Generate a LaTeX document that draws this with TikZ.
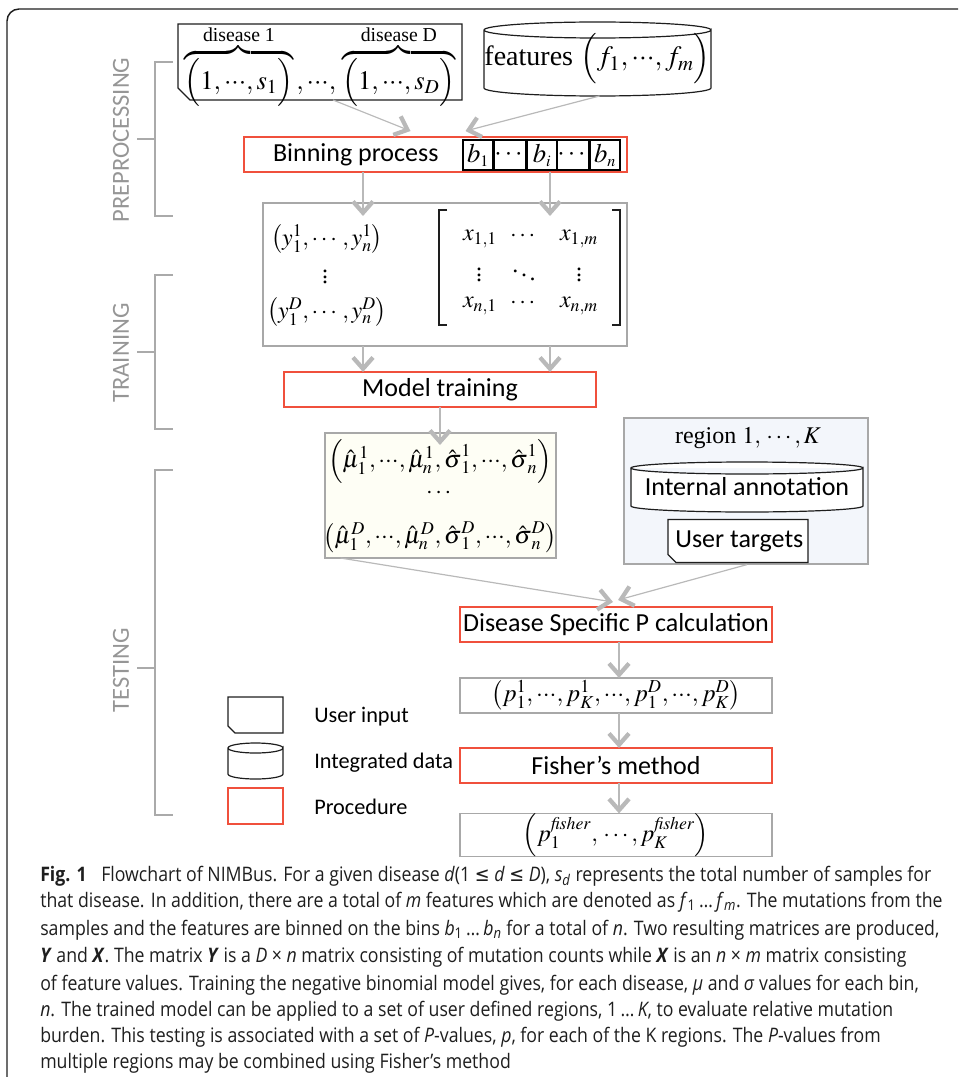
\documentclass[tikz,border=0pt]{standalone}
\usepackage{amsmath}
\usepackage{mathptmx}
\usepackage{fontspec}
\setmainfont{Liberation Serif}
\newfontfamily\calib{Carlito}
\newfontfamily\capfont[FakeStretch=0.885]{Open Sans}
\newfontfamily\symfont[FakeStretch=0.885]{DejaVu Sans}
\usetikzlibrary{arrows.meta,calc}

\definecolor{procred}{RGB}{240,80,60}
\definecolor{boxgray}{RGB}{168,168,168}
\definecolor{arrgray}{RGB}{185,185,185}
\definecolor{bracegray}{RGB}{170,170,170}
\definecolor{phasegray}{RGB}{150,150,150}
\definecolor{paramfill}{RGB}{254,254,245}
\definecolor{regionfill}{RGB}{243,246,251}
\definecolor{ink}{RGB}{30,30,30}

\newcommand\lblfont{\calib\fontsize{19.5}{23}\selectfont}
\newcommand\legfont{\calib\fontsize{16.7}{20}\selectfont}
\newcommand\mathbig{\fontsize{21}{25}\selectfont}
\newcommand\mathin{\fontsize{20}{24}\selectfont}
\newcommand\mathmid{\fontsize{18}{22}\selectfont}
\newcommand\mathvec{\fontsize{18.3}{22}\selectfont}
\newcommand\capline{\capfont\fontsize{15}{18}\selectfont}

% tight ellipsis and comma for the formulas
\newcommand\cd{\mathord{\cdotp}\mathord{\cdotp}\mathord{\cdotp}}
\newcommand\cm{\mathord{,}\mkern2mu}

\pgfdeclarelayer{bg}
\pgfdeclarelayer{shapes}
\pgfsetlayers{bg,shapes,main}

% cylinder outline around a named node: [style]{node}{half width}{cap radius}
\newcommand\drum[4][]{%
  \filldraw[#1] ($(#2.north west)+(0,#4)$) -- ($(#2.south west)+(0,-#4)$)
    arc[start angle=180,end angle=0,x radius=#3,y radius=#4]
    -- ($(#2.north east)+(0,#4)$)
    arc[start angle=0,end angle=360,x radius=#3,y radius=#4];}
% box with a clipped lower-left corner: [style]{node}{cut}
\newcommand\notched[3][]{%
  \filldraw[#1] (#2.north west) -- (#2.north east) -- (#2.south east)
    -- ($(#2.south west)+(#3,0)$) -- ($(#2.south west)+(0,-#3)$) -- cycle;}

\tikzset{
  sz/.style 2 args={minimum width=#1*0.75pt, minimum height=#2*0.75pt},
  holder/.style={inner sep=0pt, outer sep=0pt},
  proc/.style={draw=procred, line width=1.1pt, inner sep=0pt, outer sep=0pt, font=\lblfont},
  gbox/.style={draw=boxgray, line width=1.1pt, inner sep=0pt, outer sep=0pt},
  conn/.style={draw=arrgray, line width=1.3pt, -{Straight Barb[length=8.5pt,width=15pt,line width=3.2pt]}},
  thinconn/.style={conn, line width=0.9pt},
  cell/.style={draw=black, line width=1.5pt, sz={30}{30}, inner sep=0pt, font=\fontsize{20}{24}\selectfont},
  phase/.style={rotate=90, text=phasegray, inner sep=0pt, font=\calib\fontsize{18.4}{22}\selectfont},
  bracket/.style={draw=bracegray, line width=2.2pt},
  capl/.style={anchor=base west, inner sep=0pt, text=ink, font=\capline},
  leg/.style={anchor=west, inner sep=0pt, font=\legfont},
}

\begin{document}
\begin{tikzpicture}[x=0.75pt,y=-0.75pt]
\useasboundingbox (0,0) rectangle (958,1077);

% outer frame
\draw[ink,line width=1.1pt] (7,1077) -- (7,21)
  arc[start angle=180,end angle=270,x radius=12,y radius=12] -- (958,9);

% phase brackets
\node[phase] (ph1) at (121,140) {PREPROCESSING};
\draw[bracket] (173,62) -- (155,62) -- (155,216) -- (173,216);
\draw[bracket] (155,139) -- (137,139);
\node[phase] (ph2) at (121,353) {TRAINING};
\draw[bracket] (173,275) -- (155,275) -- (155,429) -- (173,429);
\draw[bracket] (155,352) -- (137,352);
\node[phase] (ph3) at (121,670) {TESTING};
\draw[bracket] (173,470) -- (155,470) -- (155,815) -- (173,815);
\draw[bracket] (155,668) -- (137,668);

% inputs
\node[holder,sz={284}{76}] (ui) at (320,62) {};
\node[holder] (uit) at (320,66)
  {\mathin$\overbrace{\Big(1\cm\cd\cm s_1\Big)}^{\text{disease 1}}\cm\cd\cm\overbrace{\Big(1\cm\cd\cm s_D\Big)}^{\text{disease D}}$};
\node[holder,sz={227}{74}] (feat) at (597.5,59)
  {\mathbig features $\Big(f_1\cm\cd\cm f_m\Big)$};
\begin{pgfonlayer}{shapes}
  \notched[draw=ink,fill=white,line width=0.9pt]{ui}{12}
  \drum[draw=ink,fill=white,line width=0.9pt]{feat}{113.5}{8}
\end{pgfonlayer}

% binning
\node[proc,sz={383}{35}] (bin) at (435.5,154.5)
  {\makebox[287.25pt][l]{\hspace{21.75pt}Binning process}};
\node[cell] (c1) at (478,155) {$b_{\scriptscriptstyle 1}$};
\node[cell] (c2) at (510,155) {$\cdots$};
\node[cell] (c3) at (542,155) {$b_{\scriptscriptstyle i}$};
\node[cell] (c4) at (573,155) {$\cdots$};
\node[cell] (c5) at (605,155) {$b_{\scriptscriptstyle n}$};

% mutation counts and feature matrix
\node[gbox,sz={364}{143}] (yx) at (445,274.5) {};
\node[font=\mathmid] (yv1) at (327,239) {$\left(y_1^1,\cdots,y_n^1\right)$};
\node[font=\mathmid] (yvd) at (325,273) {$\vdots$};
\node[font=\mathmid] (yv2) at (327,312) {$\left(y_1^D,\cdots,y_n^D\right)$};
\node[holder,sz={181}{115}] (xm) at (529.5,267.5) {};
\draw[ink,line width=1.4pt] ($(xm.north west)+(8,0)$) -- (xm.north west) -- (xm.south west) -- ($(xm.south west)+(8,0)$);
\draw[ink,line width=1.4pt] ($(xm.north east)+(-8,0)$) -- (xm.north east) -- (xm.south east) -- ($(xm.south east)+(-8,0)$);
\node[font=\mathmid] (x11) at (480,239) {$x_{1,1}$};
\node[font=\mathmid] (x12) at (524,236) {$\cdots$};
\node[font=\mathmid] (x13) at (579,239) {$x_{1,m}$};
\node[font=\mathmid] (x21) at (479,271) {$\vdots$};
\node[font=\mathmid] (x22) at (524,271) {$\ddots$};
\node[font=\mathmid] (x23) at (579,271) {$\vdots$};
\node[font=\mathmid] (x31) at (480,306) {$x_{n,1}$};
\node[font=\mathmid] (x32) at (524,303) {$\cdots$};
\node[font=\mathmid] (x33) at (579,306) {$x_{n,m}$};

% training
\node[proc,sz={312}{35}] (mt) at (440,389.5) {Model training};
\node[gbox,fill=paramfill,sz={231}{125}] (mu) at (440.5,495.5) {};
\node[font=\mathvec] (mu1) at (440,461)
  {$\left(\hat{\mu}_1^1\cm\cd\cm\hat{\mu}_n^1\cm\hat{\boldsymbol{\sigma}}_1^1\cm\cd\cm\hat{\boldsymbol{\sigma}}_n^1\right)$};
\node[font=\mathmid] (mud) at (440,493) {$\cdots$};
\node[font=\mathvec] (mu2) at (440,537)
  {$\left(\hat{\mu}_1^D\cm\cd\cm\hat{\mu}_n^D\cm\hat{\boldsymbol{\sigma}}_1^D\cm\cd\cm\hat{\boldsymbol{\sigma}}_n^D\right)$};

% regions
\begin{pgfonlayer}{bg}
  \node[draw=boxgray,line width=0.9pt,fill=regionfill,sz={244}{146}] (reg) at (746,491) {};
\end{pgfonlayer}
\node[font=\mathmid] (regt) at (748,438) {region $1\cm\cdots\cm K$};
\node[holder,sz={232}{50},font=\lblfont] (ia) at (747,487) {Internal annotation};
\node[holder,sz={140}{43},font=\lblfont] (ut) at (738,541) {\hspace{2pt}User targets};
\begin{pgfonlayer}{shapes}
  \drum[draw=ink,fill=white,line width=0.9pt]{ia}{116}{6}
  \notched[draw=ink,fill=white,line width=0.9pt]{ut}{8}
\end{pgfonlayer}

% testing
\node[proc,sz={312}{35}] (ds) at (616,624.5) {Disease Specific P calculation};
\node[gbox,sz={312}{35}] (pb) at (616,695.5)
  {\fontsize{18.5}{22}\selectfont$\left(p_1^1\cm\cd\cm p_K^1\cm\cd\cm p_1^D\cm\cd\cm p_K^D\right)$};
\node[proc,sz={312}{35}] (fm) at (616,765.5) {Fisher’s method};
\node[gbox,sz={312}{36}] (rb) at (616,835)
  {\mathmid$\left(p_1^{\mathit{fisher}}\cm\cdots\cm p_K^{\mathit{fisher}}\right)$};

% legend
\node[holder,sz={55}{36}] (lg1) at (255.5,715) {};
\node[holder,sz={55}{36}] (lg2) at (255.5,761) {};
\node[draw=procred,line width=1.1pt,sz={55}{36}] (lg3) at (255.5,806) {};
\begin{pgfonlayer}{shapes}
  \notched[draw=ink,fill=white,line width=0.9pt]{lg1}{7}
  \drum[draw=ink,fill=white,line width=0.9pt]{lg2}{27.5}{5}
\end{pgfonlayer}
\node[leg] (lt1) at (314,717) {User input};
\node[leg] (lt2) at (314,763) {Integrated data};
\node[leg] (lt3) at (314,807) {Procedure};

% connectors
\draw[thinconn] ($(ui.south)+(13,0)$) -- ($(bin.north)+(-25,-6)$);
\draw[thinconn] ($(feat.south)+(2,0)$) -- ($(bin.north)+(30,-6)$);
\draw[conn] ($(bin.south)+(-72.5,0)$) -- ($(yx.north)+(-82,13)$);
\draw[conn] ($(bin.south)+(114.5,0)$) -- ($(yx.north)+(105,13)$);
\draw[conn] ($(yx.south)+(-82,0)$) -- ($(mt.north)+(-77,0)$);
\draw[conn] ($(yx.south)+(105,0)$) -- ($(mt.north)+(110,0)$);
\draw[conn] (mt.south) -- ($(mu.north)+(-0.5,12)$);
\draw[thinconn] ($(mu.south)+(-100,0)$) -- ($(ds.north)+(-3,-5)$);
\draw[thinconn] ($(reg.south)+(1,0)$) -- ($(ds.north)+(2,-7)$);
\draw[conn] ($(ds.south)+(3,0)$) -- ($(pb.north)+(3,0)$);
\draw[conn] ($(pb.south)+(3,0)$) -- ($(fm.north)+(3,0)$);
\draw[conn] ($(fm.south)+(3,0)$) -- ($(rb.north)+(3,0)$);

% caption
\node[capl] (cap1) at (40,881) {\textbf{Fig. 1}\hspace{0.5em} Flowchart of NIMBus. For a given disease \textit{d}(1 {\symfont ≤} \textit{d} {\symfont ≤} \textit{D}), \textit{s}\textsubscript{\textit{d}} represents the total number of samples for};
\node[capl] (cap2) at (40,907) {that disease. In addition, there are a total of \textit{m} features which are denoted as \textit{f}\textsubscript{1}\,…\,\textit{f}\textsubscript{\textit{m}}. The mutations from the};
\node[capl] (cap3) at (40,935) {samples and the features are binned on the bins \textit{b}\textsubscript{1}\,…\,\textit{b}\textsubscript{\textit{n}} for a total of \textit{n}. Two resulting matrices are produced,};
\node[capl] (cap4) at (40,962) {\textbf{\textit{Y}} and \textbf{\textit{X}}. The matrix \textbf{\textit{Y}} is a \textit{D} × \textit{n} matrix consisting of mutation counts while \textbf{\textit{X}} is an \textit{n} × \textit{m} matrix consisting};
\node[capl] (cap5) at (40,990) {of feature values. Training the negative binomial model gives, for each disease, \textit{μ} and \textit{σ} values for each bin,};
\node[capl] (cap6) at (40,1016) {\textit{n}. The trained model can be applied to a set of user defined regions, 1\,…\,\textit{K}, to evaluate relative mutation};
\node[capl] (cap7) at (40,1042) {burden. This testing is associated with a set of \textit{P}-values, \textit{p}, for each of the K regions. The \textit{P}-values from};
\node[capl] (cap8) at (40,1068) {multiple regions may be combined using Fisher’s method};

\end{tikzpicture}
\end{document}
